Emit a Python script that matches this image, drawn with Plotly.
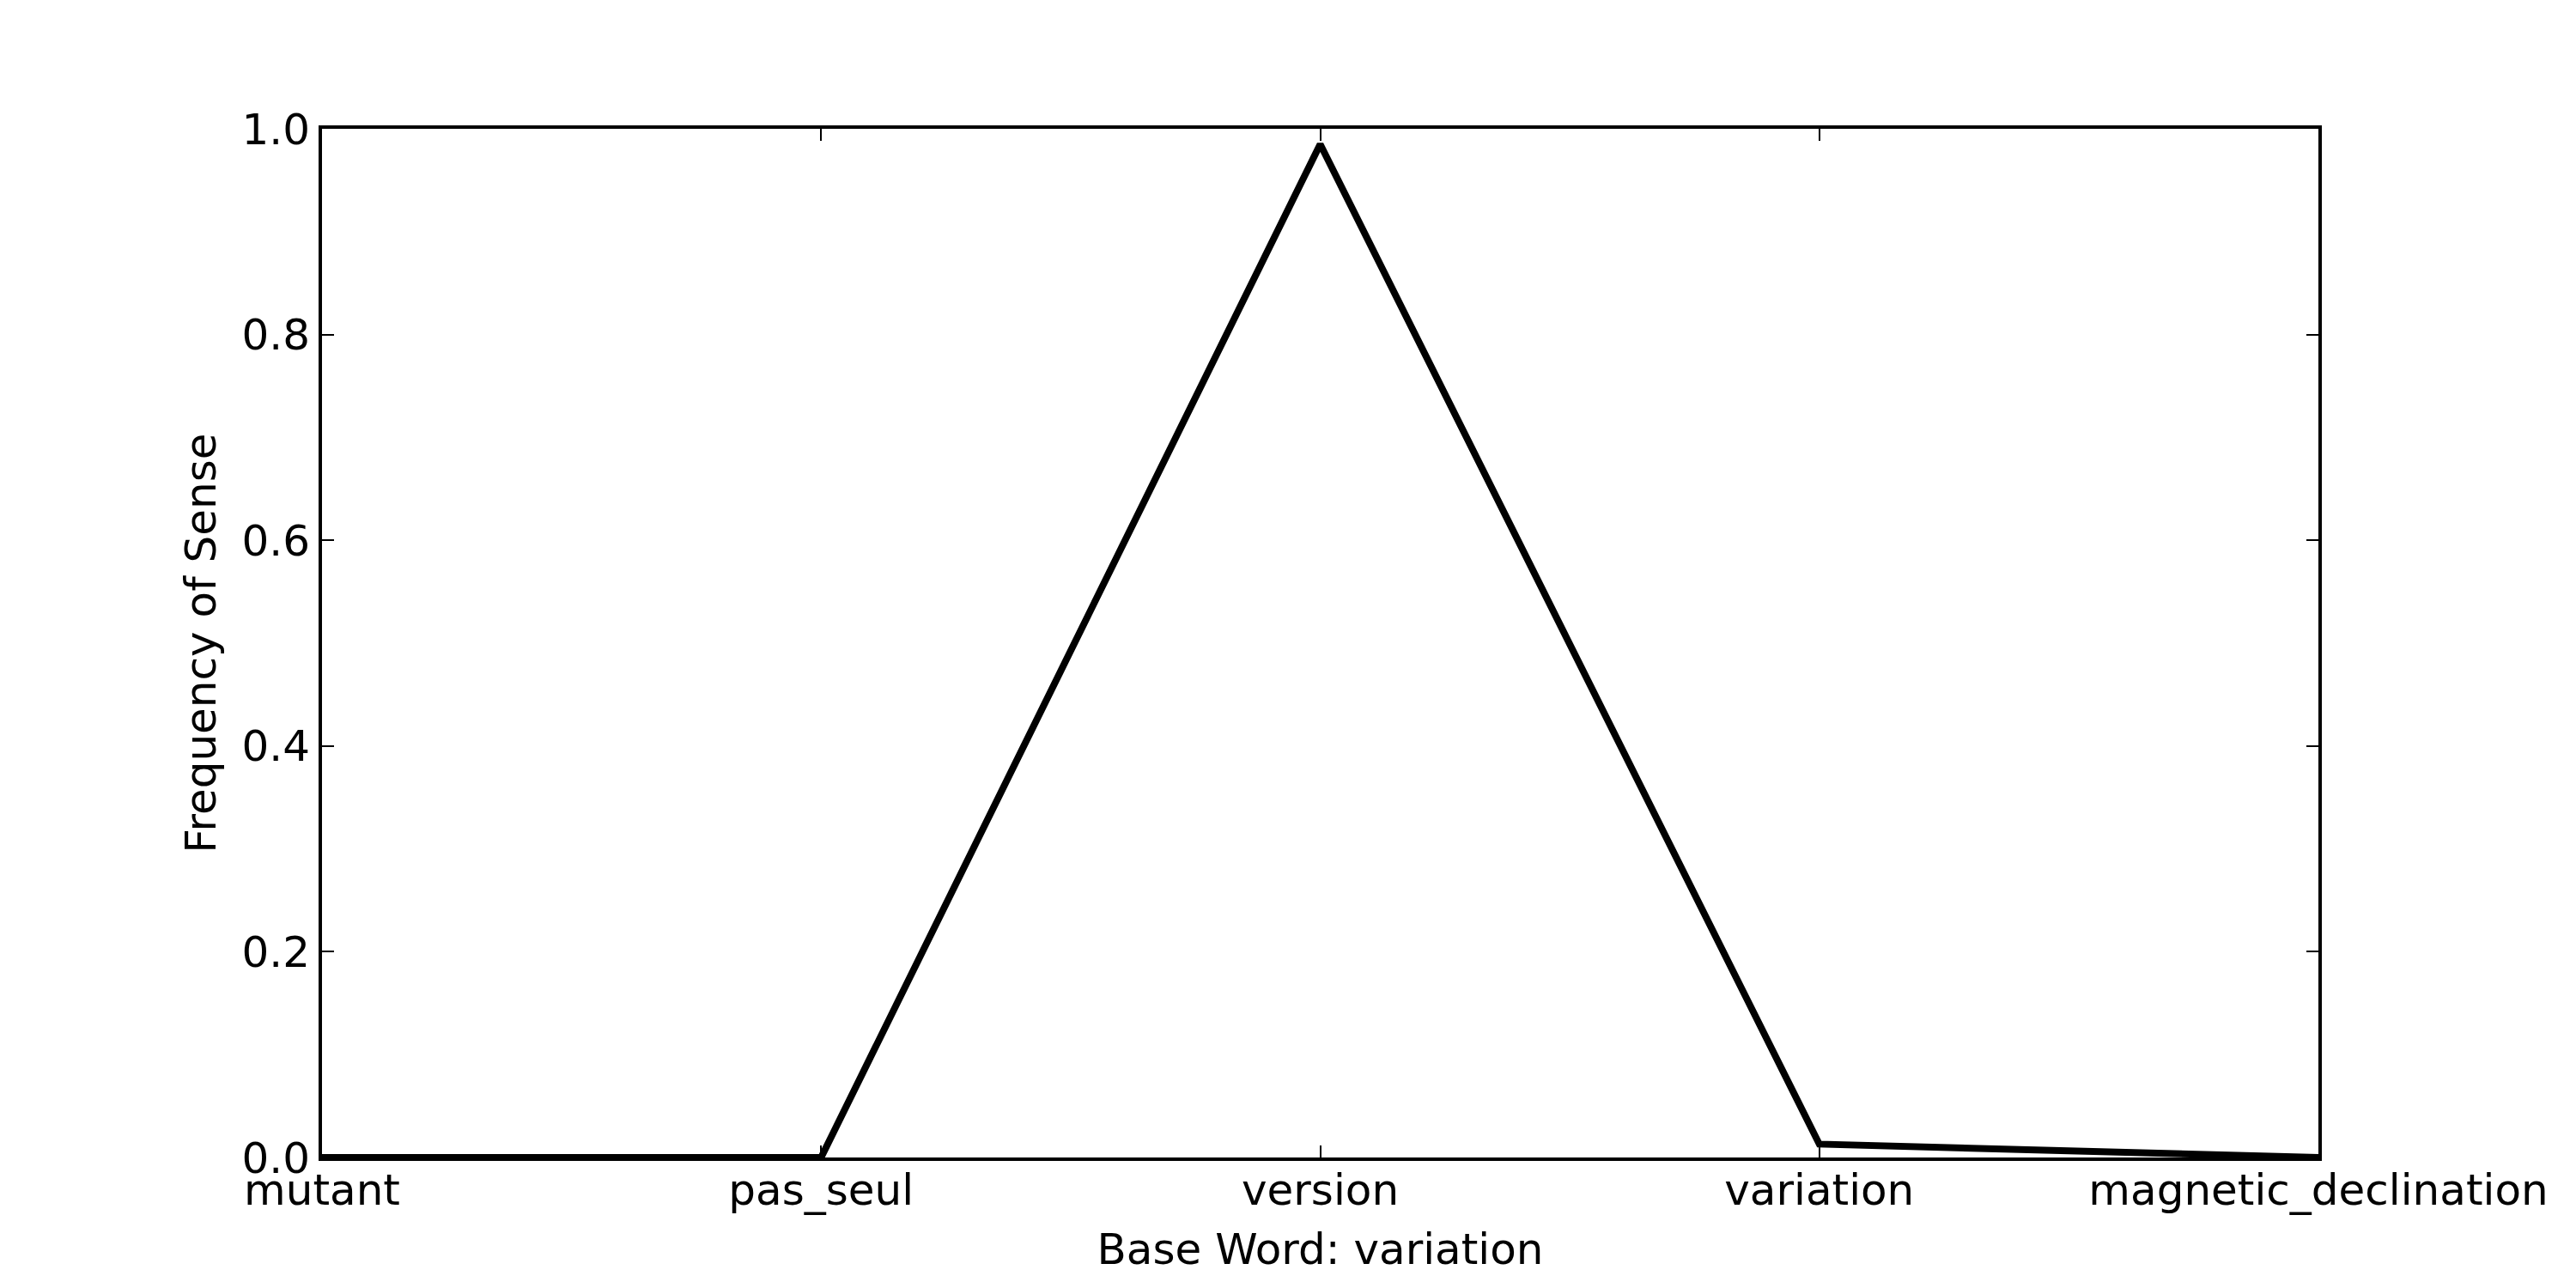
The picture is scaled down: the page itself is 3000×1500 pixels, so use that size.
import plotly.graph_objects as go

categories = ["mutant", "pas_seul", "version", "variation", "magnetic_declination"]
frequency = [0.0, 0.0, 0.985, 0.013, 0.0]
y_ticks = [0.0, 0.2, 0.4, 0.6, 0.8, 1.0]

FONT = "DejaVu Sans"
FS = 50

fig = go.Figure()
fig.add_trace(go.Scatter(
    x=list(range(len(categories))),
    y=frequency,
    mode="lines",
    line=dict(color="black", width=8),
    showlegend=False,
    cliponaxis=True,
))

fig.update_layout(
    width=3000,
    height=1500,
    margin=dict(l=375, r=300, t=150, b=152, autoexpand=False),
    paper_bgcolor="white",
    plot_bgcolor="white",
    font=dict(family=FONT, size=FS, color="black"),
    xaxis=dict(
        range=[0, len(categories) - 1],
        tickmode="array",
        tickvals=list(range(len(categories))),
        ticktext=categories,
        showline=True, linecolor="black", linewidth=4, mirror="ticks",
        ticks="inside", ticklen=14, tickwidth=2, tickcolor="black",
        showgrid=False, zeroline=False,
        ticklabelstandoff=-9,
        tickfont=dict(family=FONT, size=FS, color="black"),
        title=dict(text="Base Word: variation", font=dict(family=FONT, size=FS, color="black"), standoff=24),
    ),
    yaxis=dict(
        range=[0, 1],
        tickmode="array",
        tickvals=y_ticks,
        ticktext=[f"{v:.1f}" for v in y_ticks],
        showline=True, linecolor="black", linewidth=4, mirror="ticks",
        ticks="inside", ticklen=14, tickwidth=2, tickcolor="black",
        showgrid=False, zeroline=False,
        tickfont=dict(family=FONT, size=FS, color="black"),
        title=dict(text="Frequency of Sense", font=dict(family=FONT, size=FS, color="black"), standoff=15),
    ),
)

fig.write_html("out.html")
